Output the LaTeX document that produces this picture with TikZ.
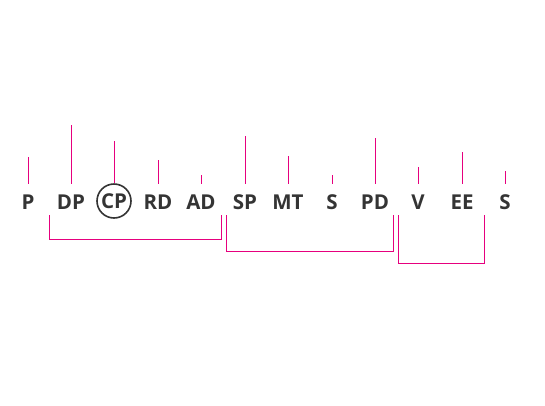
\documentclass[tikz,border=0pt]{standalone}
\usepackage{fontspec}
\setmainfont{Open Sans}
\definecolor{mag}{RGB}{230,0,126}
\definecolor{txt}{RGB}{52,52,52}
\tikzset{
  lbl/.style={inner sep=0pt, minimum height=36pt, text=txt, font=\fontsize{20.5}{20.5}\selectfont\bfseries},
  circ/.style={lbl, circle, draw=txt, line width=1.6pt, minimum size=34pt},
  tk/.style={mag, line width=1pt},
  br/.style={mag, line width=1pt}
}
\begin{document}
\begin{tikzpicture}[x=1pt,y=-1pt]
\useasboundingbox (0,0) rectangle (545,405);
% words
\node[lbl]  (p)  at (28,202)  {P};
\node[lbl]  (dp) at (71,202)  {DP};
\node[circ] (cp) at (114,201) {CP};
\node[lbl]  (rd) at (158,202) {RD};
\node[lbl]  (ad) at (201,202) {AD};
\node[lbl]  (sp) at (245,202) {SP};
\node[lbl]  (mt) at (288,202) {MT};
\node[lbl]  (s1) at (332,202) {S};
\node[lbl]  (pd) at (375,202) {PD};
\node[lbl]  (v)  at (418,202) {V};
\node[lbl]  (ee) at (462,202) {EE};
\node[lbl]  (s2) at (505,202) {S};
% ticks
\draw[tk] (p.north)  -- ++(0,-27);
\draw[tk] (dp.north) -- ++(0,-59);
\draw[tk] (cp.north) -- ++(0,-42);
\draw[tk] (rd.north) -- ++(0,-24);
\draw[tk] (ad.north) -- ++(0,-9);
\draw[tk] (sp.north) -- ++(0,-48);
\draw[tk] (mt.north) -- ++(0,-28);
\draw[tk] (s1.north) -- ++(0,-9);
\draw[tk] (pd.north) -- ++(0,-46);
\draw[tk] (v.north)  -- ++(0,-17);
\draw[tk] (ee.north) -- ++(0,-32);
\draw[tk] (s2.north) -- ++(0,-13);
% brackets
\coordinate (b1a) at (49,215);
\coordinate (b1b) at (221,215);
\coordinate (b2a) at (226,215);
\coordinate (b2b) at (393,215);
\coordinate (b3a) at (398,215);
\coordinate (b3b) at (484,215);
\draw[br] (b1a) -- ++(0,24) -| (b1b);
\draw[br] (b2a) -- ++(0,36) -| (b2b);
\draw[br] (b3a) -- ++(0,48) -| (b3b);
\end{tikzpicture}
\end{document}
